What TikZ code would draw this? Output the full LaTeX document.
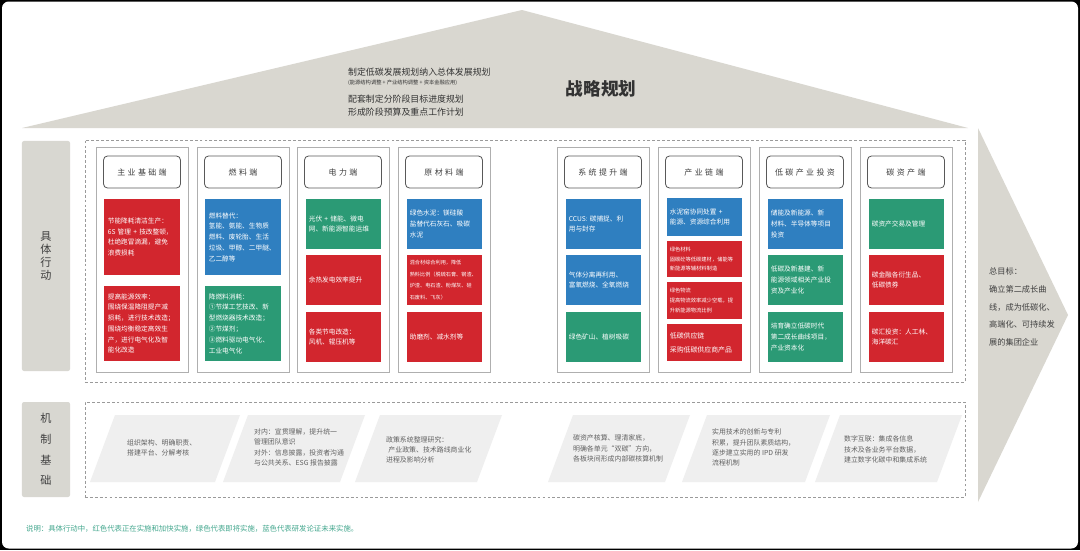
\documentclass[tikz,border=0pt]{standalone}
\usepackage{fontspec}
\newfontfamily\cjk{Noto Sans CJK SC}
\definecolor{cred}{HTML}{D2262E}
\definecolor{cblue}{HTML}{2F7FC0}
\definecolor{cgreen}{HTML}{2B9A75}
\definecolor{roofc}{HTML}{D9D7D0}
\definecolor{lblc}{HTML}{D8D7D1}
\definecolor{parac}{HTML}{EFEFEF}
\definecolor{notec}{HTML}{45A88F}
\definecolor{dashc}{HTML}{9A9A9A}
\definecolor{panelc}{HTML}{AFAFAF}
\tikzset{
  cb/.style={rectangle, inner xsep=0.1cm, inner ysep=0pt, text=white, align=left, text width=2.05cm, font=\cjk\fontsize{5.7}{9.2}\selectfont},
  smallcb/.style={font=\cjk\fontsize{4.4}{9.8}\selectfont},
  tinycb/.style={font=\cjk\fontsize{4.5}{8.5}\selectfont},
  panelbox/.style={rectangle, draw=panelc, line width=0.6pt, fill=white, minimum width=2.76cm, minimum height=6.75cm, inner sep=0pt},
  hb/.style={rectangle, rounded corners=0.12cm, draw=black!65, line width=0.7pt, fill=white, minimum width=2.31cm, minimum height=0.96cm, inner sep=0pt, text=black!75, font=\cjk\fontsize{6.8}{8}\selectfont\addfontfeature{LetterSpace=30}},
  dbox/.style={rectangle, draw=dashc, line width=0.6pt, dash pattern=on 2.4pt off 1.8pt, inner sep=0pt},
  lblbox/.style={rectangle, rounded corners=0.06cm, fill=lblc, minimum width=1.44cm, inner sep=0pt, align=center, text=black!75},
  btxt/.style={anchor=west, align=left, text=black!62, font=\cjk\fontsize{5.9}{8.8}\selectfont},
}
\newcommand{\cbx}[7][]{\node[cb,fill=#3,minimum height={(#6-#5)*0.03cm},#1] (#2) at (#4,{(#5+#6)/2}) {#7};}
\begin{document}
\begin{tikzpicture}[x=0.03cm,y=-0.03cm]
\useasboundingbox (0,0) rectangle (1080,550);
% frame
\fill[black] (0,0) rectangle (1080,550);
\fill[white, rounded corners=0.2cm] (2,1.5) rectangle (1078,548.5);
% roof and arrow
\fill[roofc] (22,128) -- (522,10) -- (968,128) -- cycle;
\fill[roofc] (978,128) -- (1068,315) -- (978,502) -- cycle;
% roof texts
\node[anchor=west, text=black!80, font=\cjk\fontsize{7.6}{9}\selectfont] (t1) at (344,72) {制定低碳发展规划纳入总体发展规划};
\node[anchor=west, text=black!80, font=\cjk\fontsize{4.5}{5}\selectfont] (t2) at (344,83) {(能源结构调整 + 产业结构调整 + 资本金融应用)};
\node[anchor=west, align=left, text=black!80, font=\cjk\fontsize{7.6}{11}\selectfont] (t3) at (344,105.5) {配套制定分阶段目标进度规划\\形成阶段预算及重点工作计划};
\node[text=black!80, font=\cjk\bfseries\fontsize{15}{18}\selectfont] (title) at (601,89) {战略规划};
% dashed boxes
\node[dbox, minimum width=26.4cm, minimum height=7.26cm] (act) at (525,261) {};
\node[dbox, minimum width=26.4cm, minimum height=2.85cm] (mech) at (525,449.5) {};
% left labels
\node[lblbox, minimum height=6.9cm, font=\cjk\fontsize{9.5}{11}\selectfont] (la) at (46,256) {具\\体\\行\\动};
\node[lblbox, minimum height=2.85cm, font=\cjk\fontsize{9.5}{17.6}\selectfont] (lb) at (46,449.5) {机\\制\\基\\础};
% panels
\node[panelbox] (p1) at (142,259.5) {};
\node[panelbox] (p2) at (243,259.5) {};
\node[panelbox] (p3) at (343,259.5) {};
\node[panelbox] (p4) at (444,259.5) {};
\node[panelbox] (p5) at (603,259.5) {};
\node[panelbox] (p6) at (704,259.5) {};
\node[panelbox] (p7) at (805,259.5) {};
\node[panelbox] (p8) at (906,259.5) {};
% headers
\node[hb] (h1) at (142,172) {主业基础端};
\node[hb] (h2) at (243,172) {燃料端};
\node[hb] (h3) at (343,172) {电力端};
\node[hb] (h4) at (444,172) {原材料端};
\node[hb] (h5) at (603,172) {系统提升端};
\node[hb] (h6) at (704,172) {产业链端};
\node[hb] (h7) at (805,172) {低碳产业投资};
\node[hb] (h8) at (906,172) {碳资产端};
% coloured boxes
\cbx{c11}{cred}{142}{199}{275}{节能降耗清洁生产：\\6S 管理 + 技改整顿，\\杜绝跑冒滴漏，避免\\浪费损耗}
\cbx{c12}{cred}{142}{286}{361}{提高能源效率：\\围绕保温降阻提产减\\损耗，进行技术改造；\\围绕均衡稳定高效生\\产，进行电气化及智\\能化改造}
\cbx{c21}{cblue}{243}{199}{275}{燃料替代：\\氢能、氨能、生物质\\燃料、废轮胎、生活\\垃圾、甲醇、二甲醚、\\乙二醇等}
\cbx{c22}{cgreen}{243}{286}{361}{降燃料消耗：\\①节煤工艺技改、新\\型燃烧器技术改造；\\②节煤剂；\\③燃料驱动电气化、\\工业电气化}
\cbx{c31}{cgreen}{343}{199}{249}{光伏 + 储能、微电\\网、新能源智能运维}
\cbx{c32}{cred}{343}{255}{305}{余热发电效率提升}
\cbx{c33}{cred}{343}{312}{362}{各类节电改造：\\风机、辊压机等}
\cbx{c41}{cblue}{444}{199}{249}{绿色水泥：镁硅酸\\盐替代石灰石、吸碳\\水泥}
\cbx[smallcb]{c42}{cred}{444}{255}{305}{混合材综合利用，降低\\熟料比例（脱硫石膏、钢渣、\\炉渣、电石渣、粉煤灰、硅\\石废料、飞灰）}
\cbx{c43}{cred}{444}{312}{362}{助磨剂、减水剂等}
\cbx{c51}{cblue}{603}{199}{249}{CCUS: 碳捕捉、利\\用与封存}
\cbx{c52}{cblue}{603}{255}{305}{气体分离再利用、\\富氧燃烧、全氧燃烧}
\cbx{c53}{cgreen}{603}{312}{362}{绿色矿山、植树吸碳}
\cbx{c61}{cblue}{704}{198}{236}{水泥窑协同处置 +\\能源、资源综合利用}
\cbx[tinycb]{c62}{cred}{704}{241}{277}{绿色材料\\固碳砼等低碳建材，储能等\\新能源等辅材料制造}
\cbx[tinycb]{c63}{cred}{704}{282}{319}{绿色物流\\提高物流效率减少空载，提\\升新能源物流比例}
\cbx[font=\cjk\fontsize{5.9}{12}\selectfont]{c64}{cred}{704}{324}{361}{低碳供应链\\采购低碳供应商产品}
\cbx{c71}{cblue}{805}{199}{249}{储能及新能源、新\\材料、半导体等项目\\投资}
\cbx{c72}{cgreen}{805}{255}{305}{低碳及新基建、新\\能源领域相关产业投\\资及产业化}
\cbx{c73}{cgreen}{805}{312}{362}{培育确立低碳时代\\第二成长曲线项目，\\产业资本化}
\cbx{c81}{cgreen}{906}{199}{249}{碳资产交易及管理}
\cbx{c82}{cred}{906}{255}{305}{碳金融各衍生品、\\低碳债券}
\cbx{c83}{cred}{906}{312}{362}{碳汇投资：人工林、\\海洋碳汇}
% goal text
\node[anchor=west, align=left, text=black!75, font=\cjk\fontsize{7}{15}\selectfont] (goal) at (985,307) {总目标：\\确立第二成长曲\\线，成为低碳化、\\高端化、可持续发\\展的集团企业};
% mechanism parallelograms
\fill[parac] (90,482) -- (115,415) -- (240,415) -- (215,482) -- cycle;
\fill[parac] (223,482) -- (248,415) -- (365,415) -- (340,482) -- cycle;
\fill[parac] (355,482) -- (380,415) -- (502,415) -- (477,482) -- cycle;
\fill[parac] (548,482) -- (573,415) -- (690,415) -- (665,482) -- cycle;
\fill[parac] (682,482) -- (707,415) -- (830,415) -- (805,482) -- cycle;
\fill[parac] (815,482) -- (840,415) -- (962,415) -- (937,482) -- cycle;
\node[btxt] (b1) at (123,448) {组织架构、明确职责、\\搭建平台、分解考核};
\node[btxt] (b2) at (250,447.5) {对内：宣贯理解，提升统一\\管理团队意识\\对外：信息披露，投资者沟通\\与公共关系、ESG 报告披露};
\node[btxt] (b3) at (382,450) {政策系统整理研究：\\\hspace{2pt}产业政策、技术路线商业化\\进程及影响分析};
\node[btxt] (b4) at (569,448.5) {碳资产核算、理清家底，\\明确各单元“双碳”方向，\\各板块间形成内部碳核算机制};
\node[btxt] (b5) at (708,447.5) {实用技术的创新与专利\\积累，提升团队素质结构，\\逐步建立实用的 IPD 研发\\流程机制};
\node[btxt] (b6) at (840,449.5) {数字互联：集成各信息\\技术及各业务平台数据，\\建立数字化碳中和集成系统};
% note
\node[anchor=west, text=notec, font=\cjk\fontsize{6.3}{7}\selectfont] (note) at (22,529) {说明：具体行动中，红色代表正在实施和加快实施，绿色代表即将实施，蓝色代表研发论证未来实施。};
\end{tikzpicture}
\end{document}
